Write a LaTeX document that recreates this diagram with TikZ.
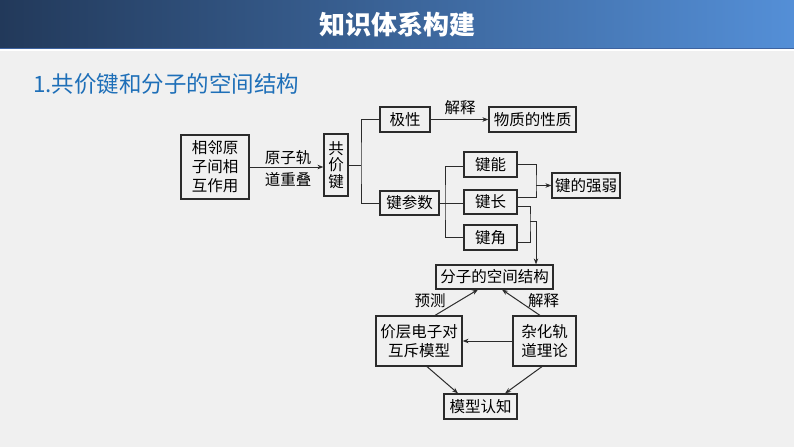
\documentclass[tikz,border=0pt]{standalone}
\usepackage{fontspec}
\newfontfamily\cjk{Noto Sans CJK SC}
\usetikzlibrary{arrows.meta,calc}
\definecolor{bg}{HTML}{F0F0F0}
\definecolor{hdleft}{HTML}{22395A}
\definecolor{hdright}{HTML}{548FD7}
\definecolor{hdline}{HTML}{3E63A0}
\definecolor{headblue}{HTML}{1E6FB8}
\definecolor{linec}{HTML}{2B2B2B}
\begin{document}
\begin{tikzpicture}[x=1pt,y=-1pt,
  box/.style={draw=linec, line width=1.2pt, inner sep=0pt, align=center,
    font=\cjk\fontsize{15.5}{19}\selectfont, text=black},
  conn/.style={draw=linec, line width=1pt},
  arr/.style={conn, -{Stealth[length=6pt,width=4.5pt]}},
  lbl/.style={font=\cjk\fontsize{15.5}{21.5}\selectfont, align=center, inner sep=0pt, text=black}]
\useasboundingbox (0,0) rectangle (794,447);
\fill[bg] (0,0) rectangle (794,447);
% header
\shade[left color=hdleft, right color=hdright] (0,0) rectangle (794,48);
\fill[hdline] (0,47.5) rectangle (794,49);
\fill[white] (0,49) rectangle (794,50.5);
\node[font=\cjk\bfseries\fontsize{26}{30}\selectfont, text=white, inner sep=0pt] (title) at (397,25) {知识体系构建};
\node[font=\cjk\fontsize{22.5}{26}\selectfont, text=headblue, anchor=west, inner sep=0pt] (heading) at (33,84) {1.共价键和分子的空间结构};
% boxes
\node[box, minimum width=68pt, minimum height=64pt] (A) at (215,167) {相邻原\\子间相\\互作用};
\node[box, minimum width=24pt, minimum height=62pt, font=\cjk\fontsize{15.5}{16.5}\selectfont] (B) at (336,165) {共\\价\\键};
\node[lbl] (Alab) at (288,168.5) {原子轨\\道重叠};
\node[box, minimum width=50pt, minimum height=25pt] (C) at (405,119.5) {极性};
\node[box, minimum width=87pt, minimum height=25pt] (D) at (532.5,119.5) {物质的性质};
\node[lbl] (Clab) at (460,108) {解释};
\node[box, minimum width=59pt, minimum height=24pt] (E) at (409.5,203) {键参数};
\node[box, minimum width=53pt, minimum height=25pt] (F) at (490.5,164.5) {键能};
\node[box, minimum width=53pt, minimum height=24pt] (G) at (490.5,202) {键长};
\node[box, minimum width=53pt, minimum height=25pt] (H) at (490.5,237.5) {键角};
\node[box, minimum width=68pt, minimum height=25pt] (I) at (586,185.5) {键的强弱};
\node[box, minimum width=117pt, minimum height=24pt] (J) at (494.5,277) {分子的空间结构};
\node[box, minimum width=86pt, minimum height=50pt] (K) at (419,341) {价层电子对\\互斥模型};
\node[box, minimum width=63pt, minimum height=50pt] (L) at (544.5,341) {杂化轨\\道理论};
\node[box, minimum width=73pt, minimum height=25pt] (M) at (480.5,406.5) {模型认知};
\node[lbl] (Klab) at (430,301) {预测};
\node[lbl] (Llab) at (543.5,300.5) {解释};
% coordinates
\coordinate (j1) at (361,165);
\coordinate (k1) at (445,203);
\coordinate (b1) at (536,185.5);
\coordinate (b2) at (530,221);
\coordinate (b3) at (536,221);
% connectors
\draw[arr] (A.east) -- (A.east -| B.west);
\draw[conn] (B.east) -- (j1);
\draw[conn] (C.west) -| (j1) |- (E.west);
\draw[arr] (C.east) -- (D.west);
\draw[conn] (E.east) -- (E.east -| G.west);
\draw[conn] ([yshift=-1.5pt]F.west) -| (k1) |- (H.west);
\draw[conn] (F.east) -| (b1) |- ([yshift=5pt]G.east);
\draw[arr] (b1) -- (I.west);
\draw[conn] ([yshift=-4pt]G.east) -| (b2) |- ([yshift=-4.5pt]H.east);
\draw[arr] (b2) -- (b3) -- (b3 |- J.north);
\draw[arr] ([xshift=16pt]K.north) -- ([xshift=-16.5pt]J.south);
\draw[arr] ([xshift=-4.5pt]L.north) -- ([xshift=7.5pt]J.south);
\draw[arr] (L.west) -- (K.east);
\draw[arr] ([xshift=8pt]K.south) -- ([xshift=-22.5pt]M.north);
\draw[arr] ([xshift=-2.5pt]L.south) -- ([xshift=24.5pt]M.north);
\end{tikzpicture}
\end{document}
